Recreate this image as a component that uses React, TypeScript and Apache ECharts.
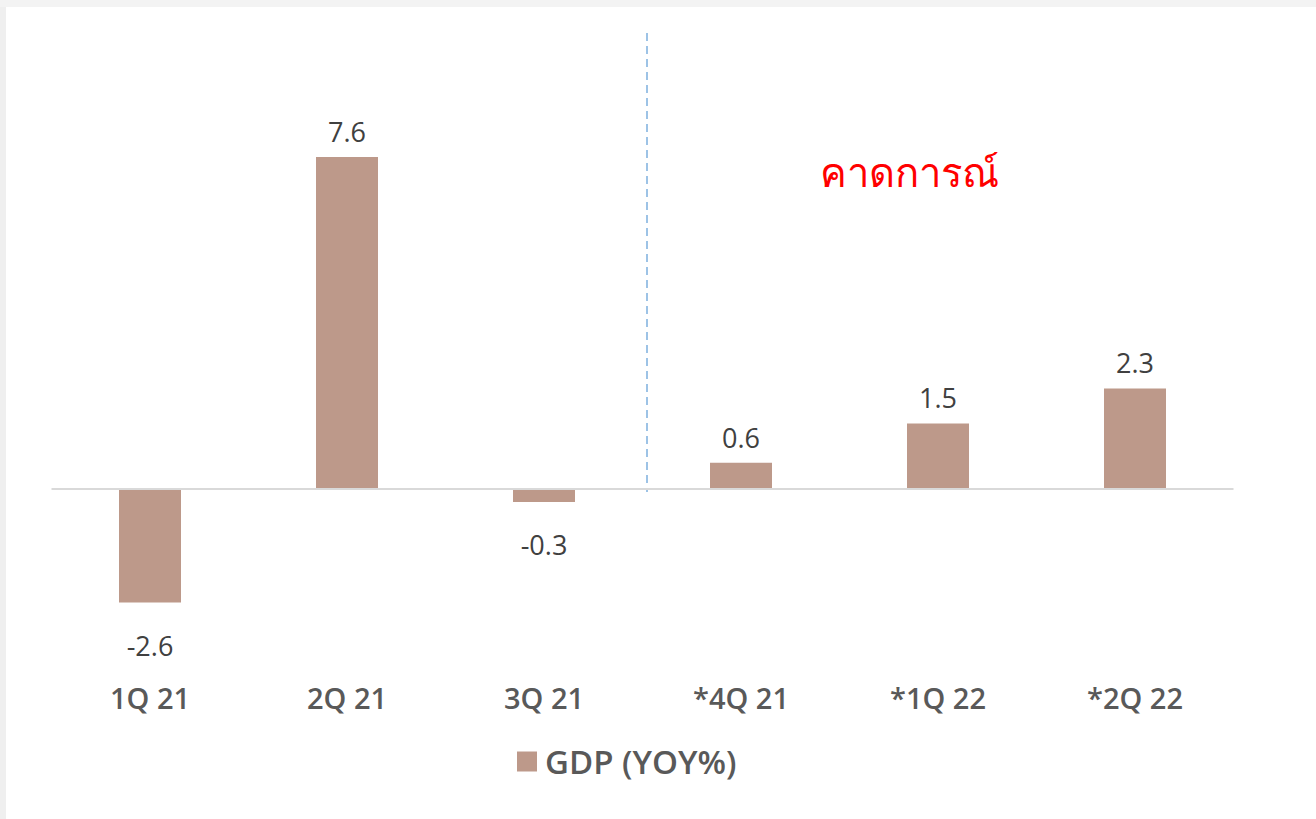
import React, { useEffect, useRef } from "react";
import * as echarts from "echarts";

const categories = ["1Q 21", "2Q 21", "3Q 21", "*4Q 21", "*1Q 22", "*2Q 22"];
const gdpValues = [-2.6, 7.6, -0.3, 0.6, 1.5, 2.3];
const seriesName = "GDP (YOY%)";
const forecastLabel = "คาดการณ์";

export default function App() {
  const ref = useRef<HTMLDivElement>(null);
  useEffect(() => {
    if (!ref.current) return;
    const chart = echarts.init(ref.current, null, { renderer: "svg" });
    chart.setOption({
      animation: false,
      backgroundColor: "#ffffff",
      grid: { left: 51.5, right: 82.5, top: 139.5, bottom: 199 },
      legend: {
        data: [seriesName],
        left: 512,
        top: 740,
        itemWidth: 20,
        itemHeight: 20,
        icon: "rect",
        textStyle: {
          fontFamily: "Open Sans",
          fontSize: 33,
          fontWeight: 600,
          color: "#595959",
          padding: [0, 0, 0, 3],
        },
      },
      xAxis: {
        type: "category",
        data: categories,
        position: "bottom",
        axisLine: { show: false },
        axisTick: { show: false },
        axisLabel: {
          margin: 63,
          fontFamily: "Open Sans",
          fontSize: 29,
          fontWeight: 600,
          color: "#595959",
        },
      },
      yAxis: {
        type: "value",
        min: -3,
        max: 8,
        show: false,
        splitLine: { show: false },
      },
      series: [
        {
          name: seriesName,
          type: "bar",
          barWidth: 62,
          itemStyle: { color: "#bd998a" },
          data: gdpValues.map((v) => ({
            value: v,
            label: {
              show: true,
              position: v >= 0 ? "top" : "bottom",
              distance: v >= 0 ? 12 : 29,
              fontFamily: "Open Sans",
              fontSize: 27,
              color: "#404040",
              formatter: (p: any) => p.value.toFixed(1),
            },
          })),
          markLine: {
            silent: true,
            symbol: "none",
            label: { show: false },
            lineStyle: { color: "#d9d9d9", width: 2, type: "solid" },
            data: [{ yAxis: 0 }],
          },
        },
      ],
      graphic: [
        { type: "rect", shape: { x: 0, y: 0, width: 6, height: 819 }, style: { fill: "#efefef" }, silent: true },
        { type: "rect", shape: { x: 0, y: 0, width: 1316, height: 7 }, style: { fill: "#f3f3f3" }, silent: true },
        {
          type: "line",
          shape: { x1: 647, y1: 33, x2: 647, y2: 492 },
          style: { stroke: "#9dc3e6", lineWidth: 2, lineDash: [8, 5] },
          silent: true,
        },
        {
          type: "text",
          x: 909,
          y: 171,
          style: {
            text: forecastLabel,
            fill: "#ff0000",
            font: "40px 'Noto Sans', sans-serif",
            align: "center",
            verticalAlign: "middle",
          },
          silent: true,
        },
      ],
    });
    return () => chart.dispose();
  }, []);
  return (
    <div
      ref={ref}
      style={{ position: "fixed", left: 0, top: 0, width: 1316, height: 819 }}
    />
  );
}
